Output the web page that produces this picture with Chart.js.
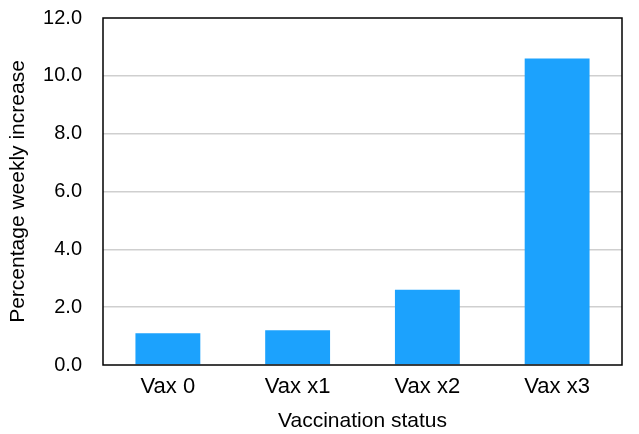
<!DOCTYPE html>
<html>
<head>
<meta charset="utf-8">
<script src="https://cdn.jsdelivr.net/npm/chart.js@4"></script>
<style>
  html, body { margin: 0; padding: 0; background: #fff; }
  #wrap { width: 639px; height: 434px; }
</style>
</head>
<body>
<div id="wrap"><canvas id="chart" width="639" height="434"></canvas></div>
<script>
const categories = ['Vax 0', 'Vax x1', 'Vax x2', 'Vax x3'];
const weeklyIncrease = [1.1, 1.2, 2.6, 10.6];

// full black frame round the plot area
const frame = {
    id: 'frame',
    afterDraw(chart) {
        const a = chart.chartArea;
        const ctx = chart.ctx;
        ctx.save();
        ctx.strokeStyle = '#000';
        ctx.lineWidth = 1.5;
        ctx.strokeRect(a.left, a.top, a.right - a.left, a.bottom - a.top);
        ctx.restore();
    }
};

const family = "'Liberation Sans', Arial, Helvetica, sans-serif";
const tickFont = { family: family, size: 20 };
const catFont = { family: family, size: 22 };
const titleFont = { family: family, size: 21 };

new Chart(document.getElementById('chart'), {
    type: 'bar',
    data: {
        labels: categories,
        datasets: [{
            data: weeklyIncrease,
            backgroundColor: '#1ca2fd',
            borderColor: '#1ca2fd',
            borderWidth: 0,
            barPercentage: 0.5,
            categoryPercentage: 1.0
        }]
    },
    options: {
        responsive: false,
        animation: false,
        layout: { padding: { top: 18, right: 17, left: 6, bottom: 0 } },
        plugins: { legend: { display: false }, tooltip: { enabled: false } },
        scales: {
            x: {
                afterFit: scale => { scale.height = 69; },
                grid: { display: false },
                border: { display: false },
                ticks: { color: '#000', font: catFont, padding: 1 },
                title: { display: true, text: 'Vaccination status', color: '#000', font: titleFont, padding: { top: 6, bottom: 0 } }
            },
            y: {
                min: 0,
                max: 12,
                afterFit: scale => {
                    scale.width = 97;
                    scale.paddingTop = 0;
                },
                ticks: {
                    stepSize: 2,
                    color: '#000',
                    font: tickFont,
                    padding: 21,
                    callback: v => v.toFixed(1)
                },
                grid: {
                    color: ctx => (ctx.tick.value === 0 || ctx.tick.value === 12) ? 'rgba(0,0,0,0)' : '#cfcfcf',
                    lineWidth: 1.5,
                    drawTicks: false
                },
                border: { display: false },
                title: { display: true, text: 'Percentage weekly increase', color: '#000', font: titleFont, padding: { top: 0, bottom: 2 } }
            }
        }
    },
    plugins: [frame]
});
</script>
</body>
</html>
